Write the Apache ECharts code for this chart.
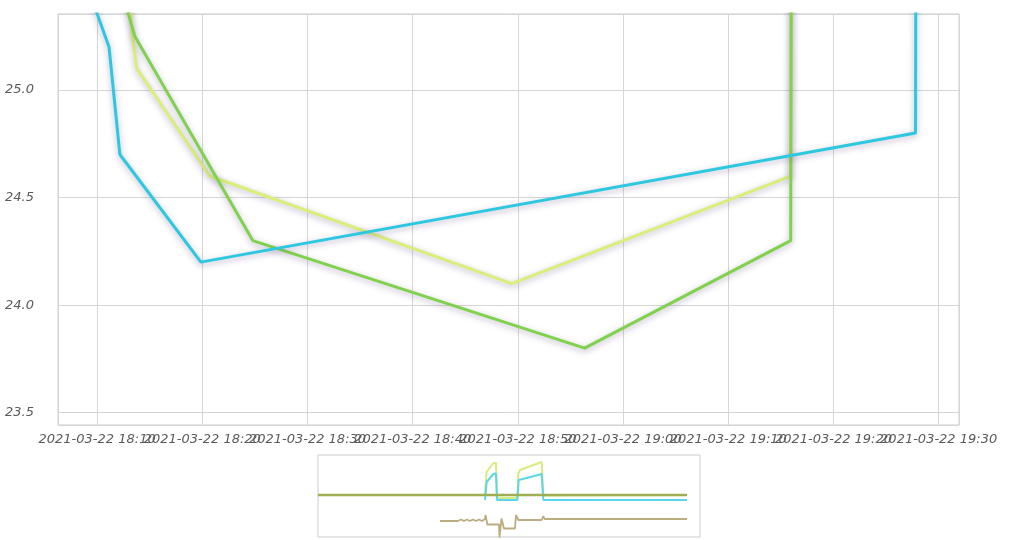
<!DOCTYPE html>
<html>
<head>
<meta charset="utf-8">
<script src="https://cdn.jsdelivr.net/npm/echarts@6/dist/echarts.min.js"></script>
<style>html,body{margin:0;padding:0;background:#fff}#c{width:1010px;height:540px}</style>
</head>
<body>
<div id="c"></div>
<script>
// ---- main view data (zoomed window) ----
const DAY = '2021-03-22';
const cyanTimes   = ['2021-03-22 18:08:12','2021-03-22 18:11:08','2021-03-22 18:12:10','2021-03-22 18:19:52','2021-03-22 19:27:48','2021-03-22 19:27:55'];
const cyanValues  = [25.6, 25.2, 24.7, 24.2, 24.8, 28.0];
const greenTimes  = ['2021-03-22 18:11:30','2021-03-22 18:13:35','2021-03-22 18:24:48','2021-03-22 18:56:21','2021-03-22 19:15:56','2021-03-22 19:16:05'];
const greenValues = [25.6, 25.25, 24.3, 23.8, 24.3, 28.0];
const yellowTimes = ['2021-03-22 18:13:00','2021-03-22 18:13:18','2021-03-22 18:13:46','2021-03-22 18:20:43','2021-03-22 18:49:25','2021-03-22 19:15:56','2021-03-22 19:16:15'];
const yellowValues= [25.6, 25.27, 25.1, 24.6, 24.1, 24.6, 28.0];
const viewStart = '2021-03-22 18:06:17';
const viewEnd   = '2021-03-22 19:31:56';
const yMin = 23.443, yMax = 25.353;

// ---- overview (navigator) data ----
const ovStart = '2021-03-22 09:15:00';
const ovEnd   = '2021-03-23 04:21:00';
const ovOliveTimes  = ['2021-03-22 09:15:00','2021-03-23 03:42:00'];
const ovOliveValues = [25.1, 25.1];
const ovCyanTimes  = ['2021-03-22 17:36:00','2021-03-22 17:41:00','2021-03-22 18:01:00','2021-03-22 18:09:00','2021-03-22 18:12:00','2021-03-22 19:13:00','2021-03-22 19:17:00','2021-03-22 19:41:00','2021-03-22 20:26:00','2021-03-22 20:28:00','2021-03-22 20:31:00','2021-03-23 03:42:00'];
const ovCyanValues = [24.1, 27.7, 29.3, 29.4, 24.1, 24.1, 28.1, 28.5, 29.3, 29.4, 24.1, 24.1];
const ovYellowTimes  = ['2021-03-22 17:36:00','2021-03-22 17:41:00','2021-03-22 18:00:00','2021-03-22 18:09:00','2021-03-22 18:12:00','2021-03-22 19:13:00','2021-03-22 19:16:00','2021-03-22 19:21:00','2021-03-22 20:26:00','2021-03-22 20:28:00','2021-03-22 20:31:00','2021-03-23 03:42:00'];
const ovYellowValues = [25.3, 29.7, 31.4, 31.5, 24.5, 24.5, 29.4, 30.1, 31.7, 31.8, 25.0, 25.1];
const ovBrownTimes  = ['2021-03-22 15:21:00','2021-03-22 16:15:00','2021-03-22 16:24:00','2021-03-22 16:33:00','2021-03-22 16:42:00','2021-03-22 16:51:00','2021-03-22 17:00:00','2021-03-22 17:09:00','2021-03-22 17:18:00','2021-03-22 17:27:00','2021-03-22 17:36:00','2021-03-22 17:37:30','2021-03-22 17:43:00','2021-03-22 18:18:00','2021-03-22 18:19:30','2021-03-22 18:25:30','2021-03-22 18:33:00','2021-03-22 19:06:00','2021-03-22 19:09:00','2021-03-22 19:16:00','2021-03-22 20:26:00','2021-03-22 20:31:00','2021-03-22 20:34:30','2021-03-23 03:42:00'];
const ovBrownValues = [19.9, 19.9, 20.2, 19.9, 20.2, 19.9, 20.2, 19.9, 20.2, 19.9, 20.3, 21.1, 19.2, 19.2, 16.6, 20.4, 18.4, 18.4, 21.1, 20.1, 20.1, 20.9, 20.3, 20.3];
const ovYMin = 16.7, ovYMax = 33.1;

// minutes since 2021-03-22 00:00
const BASE = Date.UTC(2021, 2, 22);
function toMin(s) {
  const [d, t] = s.split(' ');
  const [Y, M, D] = d.split('-').map(Number);
  const [h, m, sec] = t.split(':').map(Number);
  return (Date.UTC(Y, M - 1, D, h, m, sec || 0) - BASE) / 60000;
}
function pairs(times, vals) { return times.map((t, i) => [toMin(t), vals[i]]); }
function pad(n) { return (n < 10 ? '0' : '') + n; }
function fmtX(v) {
  const m = Math.round(v);
  const h = Math.floor(m / 60) % 24, mm = m % 60;
  return DAY + ' ' + pad(h) + ':' + pad(mm);
}

const labelStyle = { color: '#5a5a5a', fontSize: 13, fontStyle: 'italic', fontFamily: 'DejaVu Sans' };
const shadow = { shadowColor: 'rgba(100,80,130,0.45)', shadowBlur: 6, shadowOffsetY: 2 };

function mainLine(times, vals, color) {
  return {
    type: 'line', xAxisIndex: 0, yAxisIndex: 0, data: pairs(times, vals),
    showSymbol: false, symbol: 'none', silent: true, animation: false,
    lineStyle: Object.assign({ color: color, width: 3 }, shadow), itemStyle: { color: color }
  };
}
function ovLine(times, vals, color, w) {
  return {
    type: 'line', xAxisIndex: 1, yAxisIndex: 1, data: pairs(times, vals),
    showSymbol: false, symbol: 'none', silent: true, animation: false,
    lineStyle: { color: color, width: w }, itemStyle: { color: color }
  };
}

const chart = echarts.init(document.getElementById('c'), null, { renderer: 'canvas' });
chart.setOption({
  animation: false,
  backgroundColor: '#fff',
  grid: [
    { left: 58, right: 51, top: 14, bottom: 115, show: true, borderColor: '#ccc', borderWidth: 1 },
    { left: 318, width: 382, top: 455, height: 82, show: true, borderColor: '#ccc', borderWidth: 1 }
  ],
  xAxis: [
    {
      type: 'value', gridIndex: 0, min: toMin(viewStart), max: toMin(viewEnd), splitNumber: 8,
      axisLine: { show: false }, axisTick: { show: false },
      splitLine: { show: true, lineStyle: { color: '#d6d6d6' } },
      axisLabel: Object.assign({ formatter: fmtX, margin: 8, showMinLabel: false, showMaxLabel: false, hideOverlap: false }, labelStyle)
    },
    {
      type: 'value', gridIndex: 1, min: toMin(ovStart), max: toMin(ovEnd), show: false,
      splitLine: { show: false }
    }
  ],
  yAxis: [
    {
      type: 'value', gridIndex: 0, min: yMin, max: yMax, splitNumber: 4,
      axisLine: { show: false }, axisTick: { show: false },
      splitLine: { show: true, lineStyle: { color: '#d6d6d6' } },
      axisLabel: Object.assign({ formatter: v => v.toFixed(1), margin: 24, showMinLabel: false, showMaxLabel: false }, labelStyle)
    },
    {
      type: 'value', gridIndex: 1, min: ovYMin, max: ovYMax, show: false,
      splitLine: { show: false }
    }
  ],
  series: [
    mainLine(yellowTimes, yellowValues, '#d8ef78'),
    mainLine(greenTimes, greenValues, '#80d24c'),
    mainLine(cyanTimes, cyanValues, '#2cc8e0'),
    ovLine(ovBrownTimes, ovBrownValues, '#bcac80', 1.8),
    ovLine(ovYellowTimes, ovYellowValues, '#d6ec7c', 2),
    ovLine(ovCyanTimes, ovCyanValues, '#5ad6ea', 2),
    ovLine(ovOliveTimes, ovOliveValues, '#9fae52', 2.5)
  ]
});
</script>
</body>
</html>
